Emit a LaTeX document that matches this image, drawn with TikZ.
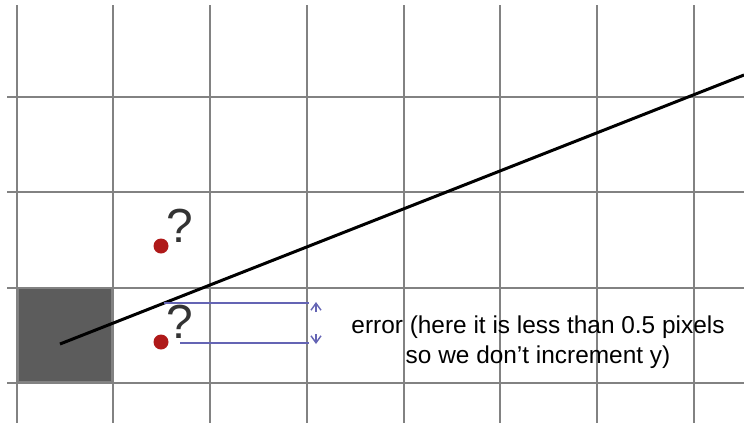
\documentclass[tikz,border=0pt]{standalone}
\usepackage{fontspec}
\setmainfont{Liberation Sans}
\usetikzlibrary{arrows.meta, positioning, calc}
\definecolor{gridgray}{RGB}{130,130,130}
\definecolor{pixgray}{RGB}{92,92,92}
\definecolor{errblue}{RGB}{100,100,180}
\definecolor{dotred}{RGB}{175,25,25}

\begin{document}
\begin{tikzpicture}[
  x=1bp, y=-1bp,
  >={Straight Barb[length=7bp,width=10bp]},
  gridline/.style={draw=gridgray, line width=2.8bp},
  pixel/.style={
    rectangle, draw=gridgray, fill=pixgray,
    minimum size=94bp, inner sep=0pt, line width=1.5bp
  },
  candidate/.style={
    circle, fill=dotred, minimum size=15bp, inner sep=0pt
  },
  query/.style={
    font=\fontsize{48}{48}\selectfont, text=black!80, inner sep=0pt
  },
  errline/.style={draw=errblue, line width=1.4bp},
  errarrow/.style={->, errblue, line width=1.4bp},
  note/.style={
    align=center, inner sep=0pt,
    font=\fontsize{24.5}{30}\selectfont
  }
]
\useasboundingbox (0,0) rectangle (744,423);

%% Grid
\foreach \gx in {17,113,210,307,404,500,597,694}
  \draw[gridline] (\gx,5) -- (\gx,423);
\foreach \gy in {97,192,288,383}
  \draw[gridline] (7,\gy) -- (744,\gy);

%% Start pixel
\node[pixel] (start) at (65,335) {};

%% Ideal line
\coordinate (lstart) at (60,344);
\coordinate (lend)   at (744,75);
\draw[line width=3bp, black] (lstart) -- (lend);

%% Candidate pixels
\node[candidate] (upper) at (161,246) {};
\node[candidate] (lower) at (161,342) {};
\node[query, right=0bp of upper.north east, anchor=south west,
      yshift=-2bp] (qupper) {?};
\node[query, right=0bp of lower.north east, anchor=south west,
      yshift=-2bp] (qlower) {?};

%% Error distance
\coordinate (eu1) at (164,303);
\coordinate (eu2) at (309,303);
\coordinate (el1) at (180,343);
\coordinate (el2) at (309,343);
\draw[errline] (eu1) -- (eu2);
\draw[errline] (el1) -- (el2);
\coordinate (au) at (316,302);
\coordinate (al) at (316,344);
\draw[errarrow] ($(au)+(0,10)$) -- (au);
\draw[errarrow] ($(al)+(0,-10)$) -- (al);

%% Note
\node[note] (errnote) at (538,342) {%
  error (here it is less than 0.5 pixels\\
  so we don't increment y)};

\end{tikzpicture}
\end{document}
